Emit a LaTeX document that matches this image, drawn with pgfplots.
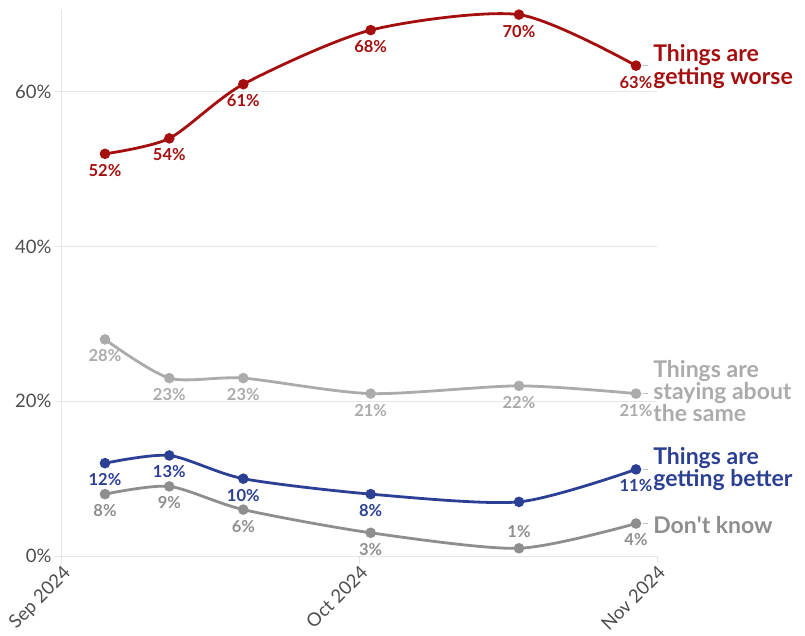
\documentclass[border=0pt]{standalone}
\usepackage{pgfplots}
\pgfplotsset{compat=1.18}
\usepackage{pgfplotstable}
\usepackage{fontspec}
\setmainfont{Lato}

\definecolor{worse}{HTML}{A50E0E}
\definecolor{better}{HTML}{2B3F94}
\definecolor{same}{HTML}{ABABAB}
\definecolor{dk}{HTML}{8E8E8E}
\definecolor{gridc}{HTML}{E6E6E6}
\definecolor{tickc}{HTML}{4D4D4D}

\pgfplotstableread{
x y lab pos
0.1445 52 52\% -1
0.3607 54 54\% -1
0.6094 61 61\% -1
1.0376 68 68\% -1
1.5361 70 70\% -1
1.9294 63.4 63\% -1
}\worsetab
\pgfplotstableread{
x y lab pos
0.1445 28 28\% -1
0.3607 23 23\% -1
0.6094 23 23\% -1
1.0376 21 21\% -1
1.5361 22 22\% -1
1.9294 21 21\% -1
}\sametab
\pgfplotstableread{
x y lab pos
0.1445 12 12\% -1
0.3607 13 13\% -1
0.6094 10 10\% -1
1.0376 8 8\% -1
1.5361 7 {} -1
1.9294 11.2 11\% -1
}\bettertab
\pgfplotstableread{
x y lab pos
0.1445 8 8\% -1
0.3607 9 9\% -1
0.6094 6 6\% -1
1.0376 3 3\% -1
1.5361 1 1\% 1
1.9294 4.2 4\% -1
}\dktab

\begin{document}
\begin{tikzpicture}
\begin{axis}[
  scale only axis, width=595pt, height=546pt,
  at={(0,0)}, anchor=south west,
  xmin=0, xmax=2, ymin=0, ymax=70.6,
  axis lines*=left,
  axis line style={gridc, line width=1pt},
  ytick={0,20,40,60},
  ymajorgrids, grid style={gridc, line width=1pt},
  xtick={0,1,2}, xticklabels={Sep 2024,Oct 2024,Nov 2024},
  tick align=outside, major tick length=7pt,
  tick style={gridc, line width=1pt},
  yticklabel={\pgfmathprintnumber{\tick}\%},
  /pgf/number format/assume math mode=true,
  ticklabel style={font=\fontsize{18.5}{20}\selectfont, text=tickc},
  xticklabel style={rotate=45, anchor=north east, inner sep=1pt},
  clip=false,
  nodes near coords, point meta=explicit symbolic,
  visualization depends on={\thisrow{pos}\as\lpos},
  every node near coord/.append style={anchor=center, yshift=\lpos*16.5pt, font=\fontsize{16.5}{18}\selectfont\bfseries},
]
\addplot[dk, line width=2.8pt, smooth, tension=0.45, mark=*, mark size=3.8pt, mark options={solid},
  every node near coord/.append style={text=dk}]
  table[x=x, y=y, meta=lab] {\dktab};
\addplot[better, line width=2.8pt, smooth, tension=0.45, mark=*, mark size=3.8pt, mark options={solid},
  every node near coord/.append style={text=better}]
  table[x=x, y=y, meta=lab] {\bettertab};
\addplot[same, line width=2.8pt, smooth, tension=0.45, mark=*, mark size=3.8pt, mark options={solid},
  every node near coord/.append style={text=same}]
  table[x=x, y=y, meta=lab] {\sametab};
\addplot[worse, line width=2.8pt, smooth, tension=0.45, mark=*, mark size=3.8pt, mark options={solid},
  every node near coord/.append style={text=worse}]
  table[x=x, y=y, meta=lab] {\worsetab};

\begin{scope}[font=\fontsize{23}{20.5}\selectfont\bfseries]
\draw[gray!50, line width=0.8pt] (axis cs:1.952,63.4) -- (axis cs:1.970,63.4);
\draw[gray!50, line width=0.8pt] (axis cs:1.952,21) -- (axis cs:1.970,21);
\draw[gray!50, line width=0.8pt] (axis cs:1.952,11.2) -- (axis cs:1.970,11.2);
\draw[gray!50, line width=0.8pt] (axis cs:1.952,4.2) -- (axis cs:1.970,4.2);
\node[anchor=west, align=left, text=worse, inner sep=0pt] at (axis cs:1.987,63.3) {Things are\\getting worse};
\node[anchor=west, align=left, text=same, inner sep=0pt] at (axis cs:1.987,21.3) {Things are\\staying about\\the same};
\node[anchor=west, align=left, text=better, inner sep=0pt] at (axis cs:1.987,11.2) {Things are\\getting better};
\node[anchor=west, align=left, text=dk, inner sep=0pt] at (axis cs:1.987,4.0) {Don\textquotesingle t know};
\end{scope}
\end{axis}
\pgfresetboundingbox
\path (-62pt,-79pt) rectangle (743pt,556pt);
\end{tikzpicture}
\end{document}
